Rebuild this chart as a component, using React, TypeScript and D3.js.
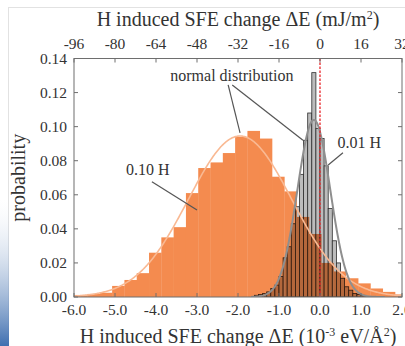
import React from "react";
import * as d3 from "d3";

const W = 405;
const H = 346;

// 0.10 H histogram (bin width 0.3, first bin starts at -6.27)
const orangeStart = -6.27;
const orangeWidth = 0.3;
const orangeProb = [
  0.001, 0.0012, 0.0018, 0.0025, 0.0065, 0.01, 0.014, 0.026, 0.035, 0.041,
  0.061, 0.0757, 0.079, 0.0845, 0.094, 0.0975, 0.093, 0.0706, 0.062, 0.047,
  0.037, 0.02, 0.015, 0.011, 0.008, 0.005, 0.003, 0.0015,
];

// 0.01 H histogram (bin width 0.1, first bin starts at -1.6)
const grayStart = -1.6;
const grayWidth = 0.1;
const grayProb = [
  0.001, 0.0015, 0.002, 0.003, 0.005, 0.007, 0.012, 0.023, 0.0295, 0.043,
  0.053, 0.072, 0.092, 0.108, 0.1317, 0.099, 0.093, 0.077, 0.052, 0.033,
  0.02, 0.011, 0.006, 0.004, 0.002, 0.0015, 0.001,
];

// fitted normal distributions
const orangeFit = { mean: -1.95, sd: 1.26, peak: 0.0945 };
const grayFit = { mean: -0.15, sd: 0.4, peak: 0.104 };

const bottomTicks = [-6, -5, -4, -3, -2, -1, 0, 1, 2];
const topTicks = [-96, -80, -64, -48, -32, -16, 0, 16, 32];
const yTicks = [0, 0.02, 0.04, 0.06, 0.08, 0.1, 0.12, 0.14];

const serif = "'Liberation Serif', 'Times New Roman', serif";

export default function App() {
  const margin = { top: 58.5, right: 3, bottom: 49, left: 74 };
  const x = d3.scaleLinear().domain([-6, 2]).range([margin.left, W - margin.right]);
  const xTop = d3.scaleLinear().domain([-96, 32]).range([margin.left, W - margin.right]);
  const y = d3.scaleLinear().domain([0, 0.14]).range([H - margin.bottom, margin.top]);

  const normal = (f, v) => f.peak * Math.exp(-((v - f.mean) ** 2) / (2 * f.sd * f.sd));
  const xs = d3.range(-6, 2.001, 0.02);
  const line = d3.line<number>().x((d) => x(d[0])).y((d) => y(d[1]));
  const orangeCurve = line(xs.map((v) => [v, normal(orangeFit, v)]) as any);
  const grayCurve = line(
    xs.filter((v) => v > -1.7 && v < 1.6).map((v) => [v, normal(grayFit, v)]) as any
  );

  const x0 = x(-6), x1 = x(2), y0 = y(0), y1 = y(0.14);

  return (
    <svg width={W} height={H} style={{ position: "absolute", left: 0, top: 0, background: "#fff" }}>
      <defs>
        <clipPath id="plot">
          <rect x={x0} y={y1} width={x1 - x0} height={y0 - y1} />
        </clipPath>
        <linearGradient id="side" x1="0" y1="0" x2="0" y2="1">
          <stop offset="0" stopColor="#dfe6ef" stopOpacity="0" />
          <stop offset="1" stopColor="#3f6fb0" />
        </linearGradient>
      </defs>

      {/* page frame */}
      <line x1={8} x2={W} y1={7.5} y2={7.5} stroke="#e2e2e2" />
      <line x1={8.5} x2={8.5} y1={7} y2={H} stroke="#e2e2e2" />
      <rect x={0} y={200} width={9} height={H - 200} fill="url(#side)" />

      <g clipPath="url(#plot)">
        {orangeProb.map((p, i) => {
          const a = orangeStart + i * orangeWidth;
          return (
            <rect key={"o" + i} x={x(a)} y={y(p)} width={x(a + orangeWidth) - x(a) + 0.3}
              height={y0 - y(p)} fill="#f48b4f" />
          );
        })}
        <g style={{ mixBlendMode: "multiply" }}>
          {grayProb.map((p, i) => {
            const a = grayStart + i * grayWidth;
            return (
              <rect key={"g" + i} x={x(a)} y={y(p)} width={x(a + grayWidth) - x(a)}
                height={y0 - y(p)} fill="#bcbcbc" stroke="#2e2e2e" strokeWidth={0.8} />
            );
          })}
        </g>
        <path d={orangeCurve} fill="none" stroke="#f9b993" strokeWidth={1.6} />
        <path d={grayCurve} fill="none" stroke="#8f8f8f" strokeWidth={2} />
        <line x1={x(0)} x2={x(0)} y1={y1} y2={y0} stroke="#e8262a" strokeWidth={1.3} strokeDasharray="2.5,1.5" />
      </g>

      {/* frame */}
      <rect x={x0} y={y1} width={x1 - x0} height={y0 - y1} fill="none" stroke="#6e6e6e" strokeWidth={1} />

      {/* ticks */}
      {bottomTicks.map((t) => (
        <g key={"b" + t}>
          <line x1={x(t)} x2={x(t)} y1={y0} y2={y0 - 4} stroke="#6e6e6e" />
          <text x={x(t)} y={y0 + 18} textAnchor="middle" fontFamily={serif} fontSize={15.5} fill="#333">
            {t.toFixed(1)}
          </text>
        </g>
      ))}
      {topTicks.map((t) => (
        <g key={"t" + t}>
          <line x1={xTop(t)} x2={xTop(t)} y1={y1} y2={y1 + 4} stroke="#6e6e6e" />
          <text x={xTop(t)} y={y1 - 10} textAnchor="middle" fontFamily={serif} fontSize={15.5} fill="#333">
            {t}
          </text>
        </g>
      ))}
      {yTicks.map((t) => (
        <g key={"y" + t}>
          <line x1={x0} x2={x0 + 4} y1={y(t)} y2={y(t)} stroke="#6e6e6e" />
          <line x1={x1} x2={x1 - 4} y1={y(t)} y2={y(t)} stroke="#6e6e6e" />
          <text x={x0 - 7} y={y(t) + 5} textAnchor="end" fontFamily={serif} fontSize={15.5} fill="#333">
            {t.toFixed(2)}
          </text>
        </g>
      ))}

      {/* axis titles */}
      <text x={(x0 + x1) / 2} y={26} textAnchor="middle" fontFamily={serif} fontSize={20} fill="#333">
        H induced SFE change ΔE (mJ/m<tspan dy={-7} fontSize={12}>2</tspan><tspan dy={7}>)</tspan>
      </text>
      <text x={(x0 + x1) / 2} y={343} textAnchor="middle" fontFamily={serif} fontSize={20} fill="#333">
        H induced SFE change ΔE (10<tspan dy={-7} fontSize={12}>-3</tspan><tspan dy={7}> eV/Å</tspan>
        <tspan dy={-7} fontSize={12}>2</tspan><tspan dy={7}>)</tspan>
      </text>
      <text transform={`translate(25,${(y0 + y1) / 2}) rotate(-90)`} textAnchor="middle" fontFamily={serif} fontSize={20} fill="#333">
        probability
      </text>

      {/* annotations */}
      <text x={x(-2.15)} y={y(0.1268)} textAnchor="middle" fontFamily={serif} fontSize={16} fill="#333">
        normal distribution
      </text>
      <line x1={x(-2.24)} y1={y(0.1245)} x2={x(-1.95)} y2={y(0.0963)} stroke="#555" strokeWidth={1.2} />
      <line x1={x(-2.14)} y1={y(0.1245)} x2={x(-0.415)} y2={y(0.092)} stroke="#555" strokeWidth={1.2} />

      <text x={x(-4.2)} y={y(0.0715)} textAnchor="middle" fontFamily={serif} fontSize={16} fill="#333">
        0.10 H
      </text>
      <line x1={x(-4.1)} y1={y(0.0677)} x2={x(-3.0)} y2={y(0.0511)} stroke="#555" strokeWidth={1.2} />

      <text x={x(0.96)} y={y(0.0872)} textAnchor="middle" fontFamily={serif} fontSize={16} fill="#333">
        0.01 H
      </text>
      <line x1={x(0.56)} y1={y(0.0847)} x2={x(0.2)} y2={y(0.0775)} stroke="#555" strokeWidth={1.2} />
    </svg>
  );
}
